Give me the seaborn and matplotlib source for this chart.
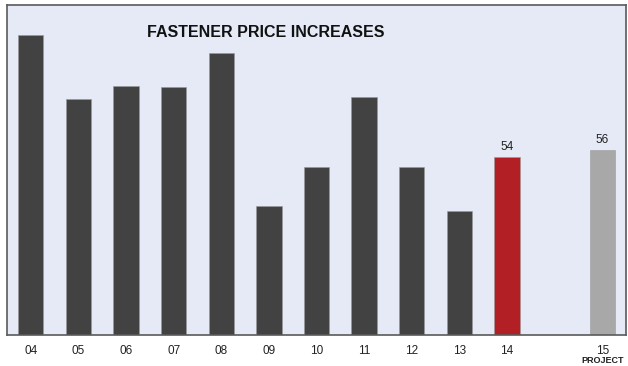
import matplotlib
matplotlib.use("Agg")
import matplotlib.pyplot as plt
import seaborn as sns
import pandas as pd

# Annual fastener price increases, '15 is a projection
years = ["04", "05", "06", "07", "08", "09", "10", "11", "12", "13", "14", "15"]
increases = [91, 71.5, 75.5, 75, 85.5, 39, 51, 72, 51, 37.5, 54, 56]
labelled_years = ["14", "15"]

# empty slot separates actuals from the projection
slot_order = years[:11] + [""] + years[11:]

dark = "#424242"
bar_colors = {y: dark for y in years}
bar_colors["14"] = "#B21F24"
bar_colors["15"] = "#A8A8A8"

sns.set_theme(style="white")
plt.rcParams["font.family"] = ["Liberation Sans", "DejaVu Sans"]

df = pd.DataFrame({"year": years, "increase": increases})

fig = plt.figure(figsize=(6.28, 3.66), dpi=100, facecolor="white")
ax = fig.add_axes([7 / 628, 31 / 366, 619 / 628, 330 / 366])
ax.set_facecolor("#E6EAF6")

sns.barplot(data=df, x="year", y="increase", hue="year", order=slot_order,
            hue_order=years, palette=bar_colors, saturation=1, width=0.53,
            legend=False, edgecolor="#9a9a9a", linewidth=0.4, ax=ax)

for container, yr in zip(ax.containers, years):
    if yr in labelled_years:
        ax.bar_label(container, fmt="%d", padding=3, fontsize=8.5, color="#222222")

ax.set_ylim(0, 100)
ax.set_xlim(-0.5, len(slot_order) - 0.5)
ax.set_yticks([])
ax.set_xlabel("")
ax.set_ylabel("")
ax.tick_params(axis="x", length=0, pad=7, labelsize=8.5, labelcolor="#222222")

for side, spine in ax.spines.items():
    spine.set_visible(True)
    spine.set_color("#5a5a5a")
    spine.set_linewidth(1.2)

ax.text(0.418, 0.918, "FASTENER PRICE INCREASES", transform=ax.transAxes,
        ha="center", va="center", fontsize=11.5, fontweight="bold", color="#111111")

ax.annotate("PROJECT", xy=(slot_order.index("15"), 0), xycoords=("data", "axes fraction"),
            xytext=(0, -18.5), textcoords="offset points", ha="center", va="center",
            fontsize=6.5, fontweight="bold", color="#222222")

fig.savefig("out.png", dpi=100, facecolor="white")
